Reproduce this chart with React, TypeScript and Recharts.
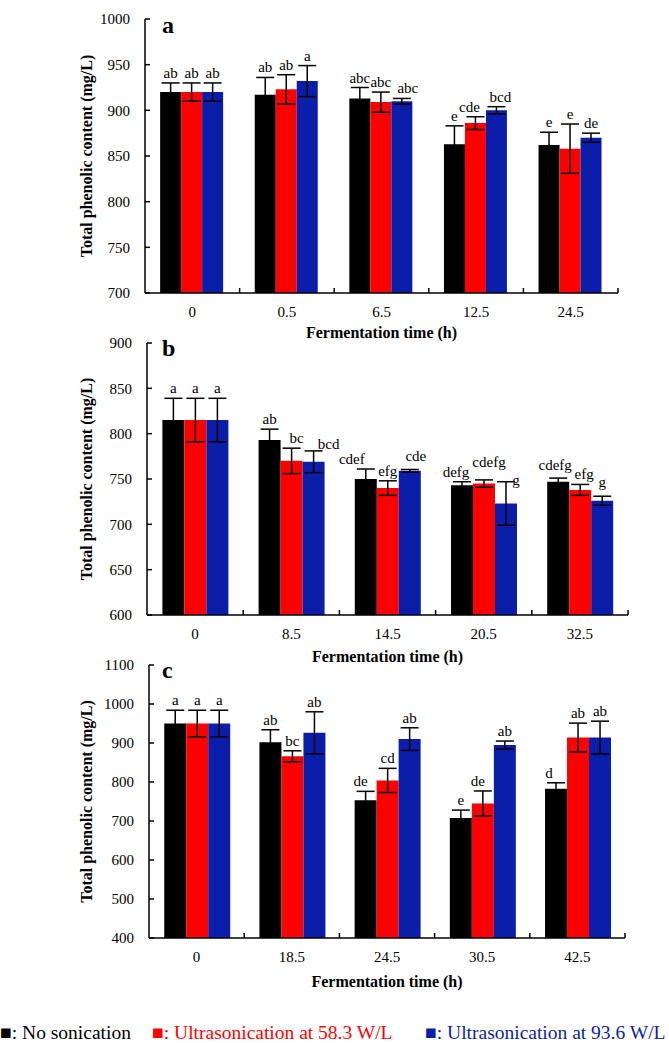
import React from 'react';
import { BarChart, Bar, XAxis, YAxis, ErrorBar, LabelList } from 'recharts';

const FONT = '"Liberation Serif", "Times New Roman", serif';
const BLACK = '#000000';
const RED = '#ff0000';
const BLUE = '#0a1eaa';

// panel a
const timesA = ['0', '0.5', '6.5', '12.5', '24.5'];
const noSonA = [920, 917, 913, 863, 862];
const noSonErrA = [10, 19, 12, 20, 14];
const u58A = [920, 923, 909, 886, 858];
const u58ErrA = [10, 16, 11, 7, 27];
const u93A = [920, 932, 910, 900, 870];
const u93ErrA = [10, 17, 3, 4, 5];
const noSonLetA = ['ab', 'ab', 'abc', 'e', 'e'];
const u58LetA = ['ab', 'ab', 'abc', 'cde', 'e'];
const u93LetA = ['ab', 'a', 'abc', 'bcd', 'de'];
const ticksA = [700, 750, 800, 850, 900, 950, 1000];

// panel b
const timesB = ['0', '8.5', '14.5', '20.5', '32.5'];
const noSonB = [815, 793, 750, 743, 747];
const noSonErrB = [24, 12, 11, 4, 4];
const u58B = [815, 770, 740, 745, 738];
const u58ErrB = [24, 14, 8, 4, 6];
const u93B = [815, 769, 759, 723, 726];
const u93ErrB = [24, 12, 1.5, 24, 5];
const noSonLetB = ['a', 'ab', 'cdef', 'defg', 'cdefg'];
const u58LetB = ['a', 'bc', 'efg', 'cdefg', 'efg'];
const u93LetB = ['a', 'bcd', 'cde', 'g', 'g'];
const ticksB = [600, 650, 700, 750, 800, 850, 900];

// panel c
const timesC = ['0', '18.5', '24.5', '30.5', '42.5'];
const noSonC = [950, 902, 753, 708, 783];
const noSonErrC = [34, 32, 23, 20, 15];
const u58C = [950, 866, 804, 745, 914];
const u58ErrC = [34, 14, 31, 32, 37];
const u93C = [950, 926, 910, 895, 914];
const u93ErrC = [34, 54, 29, 10, 42];
const noSonLetC = ['a', 'ab', 'de', 'e', 'd'];
const u58LetC = ['a', 'bc', 'cd', 'de', 'ab'];
const u93LetC = ['a', 'ab', 'ab', 'ab', 'ab'];
const ticksC = [400, 500, 600, 700, 800, 900, 1000, 1100];

const seriesColors = [BLACK, RED, BLUE];
const legendNames = ['No sonication', 'Ultrasonication at 58.3 W/L', 'Ultrasonication at 93.6 W/L'];
const xTitle = 'Fermentation time (h)';
const yTitle = 'Total phenolic content (mg/L)';

// hand placement of letters that would collide (panel-series-index: [dx, dy])
const labelNudge: Record<string, [number, number]> = {
  'a-1-3': [-6, 0],
  'a-2-3': [4, 0],
  'a-2-2': [6, 0],
  'b-0-2': [-14, 0],
  'b-2-2': [6, -3],
  'b-1-1': [5, 0],
  'b-2-1': [15, 3],
  'b-0-3': [-6, 0],
  'b-1-3': [5, -8],
  'b-2-3': [10, 8],
  'b-0-4': [-3, -3],
  'b-1-4': [4, 0],
  'b-2-4': [0, -4],
  'c-0-2': [-5, 0],
  'c-1-3': [-5, 0],
  'c-0-4': [-7, 0],
};

const panels = [
  {
    letter: 'a', times: timesA,
    vals: [noSonA, u58A, u93A], errs: [noSonErrA, u58ErrA, u93ErrA], lets: [noSonLetA, u58LetA, u93LetA],
    ticks: ticksA,
    top: 19, bottom: 293, left: 145, right: 618, titleY: 338, letterY: 33,
  },
  {
    letter: 'b', times: timesB,
    vals: [noSonB, u58B, u93B], errs: [noSonErrB, u58ErrB, u93ErrB], lets: [noSonLetB, u58LetB, u93LetB],
    ticks: ticksB,
    top: 343, bottom: 615, left: 147, right: 628, titleY: 662, letterY: 356,
  },
  {
    letter: 'c', times: timesC,
    vals: [noSonC, u58C, u93C], errs: [noSonErrC, u58ErrC, u93ErrC], lets: [noSonLetC, u58LetC, u93LetC],
    ticks: ticksC,
    top: 665, bottom: 938, left: 149, right: 625, titleY: 987, letterY: 678,
  },
];

type Panel = typeof panels[number];

function Chart({ p }: { p: Panel }) {
  const pad = 10;
  const xh = 34;
  const w = 669;
  const h = p.bottom - p.top + pad + xh;
  const band = (p.right - p.left) / p.times.length;
  const min = p.ticks[0];
  const max = p.ticks[p.ticks.length - 1];

  const rows = p.times.map((t, i) => ({
    time: t,
    s0: p.vals[0][i], e0: p.errs[0][i],
    s1: p.vals[1][i], e1: p.errs[1][i],
    s2: p.vals[2][i], e2: p.errs[2][i],
  }));

  const xTick = (props: any) => {
    const { x, y, payload } = props;
    return (
      <g>
        <line x1={x + band / 2} x2={x + band / 2} y1={y} y2={y - 5} stroke="#000" strokeWidth={1.5} />
        <text x={x} y={y + 24} textAnchor="middle" fontSize={15} fontFamily={FONT} fill="#000">
          {payload.value}
        </text>
      </g>
    );
  };

  const yTick = (props: any) => {
    const { x, y, payload } = props;
    return (
      <g>
        <line x1={x} x2={x + 5} y1={y} y2={y} stroke="#000" strokeWidth={1.5} />
        <text x={x - 15} y={y} dy="0.35em" textAnchor="end" fontSize={15} fontFamily={FONT} fill="#000">
          {payload.value}
        </text>
      </g>
    );
  };

  const letterLabel = (si: number) => (props: any) => {
    const { x, y, width, height, index } = props;
    const v = p.vals[si][index];
    const perUnit = height / (v - min);
    const errPx = p.errs[si][index] * perUnit;
    const [dx, dy] = labelNudge[`${p.letter}-${si}-${index}`] || [0, 0];
    return (
      <text
        x={x + width / 2 + dx}
        y={y - errPx - 5 + dy}
        textAnchor="middle"
        fontSize={15}
        fontFamily={FONT}
        fill="#000"
      >
        {p.lets[si][index]}
      </text>
    );
  };

  return (
    <div style={{ position: 'absolute', left: 0, top: p.top - pad }}>
      <BarChart
        width={w}
        height={h}
        data={rows}
        margin={{ top: pad, right: w - p.right, bottom: 0, left: 0 }}
        barCategoryGap="16%"
        barGap={0}
      >
        <XAxis
          dataKey="time"
          height={xh}
          interval={0}
          tickLine={false}
          tickSize={0}
          tickMargin={0}
          axisLine={{ stroke: '#000', strokeWidth: 1.5 }}
          tick={xTick}
        />
        <YAxis
          width={p.left}
          domain={[min, max]}
          ticks={p.ticks}
          allowDataOverflow
          tickLine={false}
          tickSize={0}
          tickMargin={0}
          axisLine={{ stroke: '#000', strokeWidth: 1.5 }}
          tick={yTick}
        />
        {[0, 1, 2].map((si) => (
          <Bar key={si} dataKey={`s${si}`} fill={seriesColors[si]} isAnimationActive={false}>
            <ErrorBar dataKey={`e${si}`} width={9} strokeWidth={1.5} stroke="#000" direction="y" />
            <LabelList dataKey={`s${si}`} content={letterLabel(si)} />
          </Bar>
        ))}
      </BarChart>
    </div>
  );
}

export default function App() {
  return (
    <div style={{ position: 'absolute', left: 0, top: 0, width: 669, height: 1043, background: '#fff' }}>
      {panels.map((p) => (
        <Chart key={p.letter} p={p} />
      ))}
      <svg
        width={669}
        height={1043}
        style={{ position: 'absolute', left: 0, top: 0, pointerEvents: 'none' }}
        fontFamily={FONT}
      >
        {panels.map((p) => (
          <g key={p.letter}>
            <text
              transform={`translate(86, ${(p.top + p.bottom) / 2}) rotate(-90)`}
              textAnchor="middle"
              dy="0.35em"
              fontSize={16}
              fontWeight="bold"
              fill="#000"
            >
              {yTitle}
            </text>
            <text
              x={(p.left + p.right) / 2}
              y={p.titleY}
              textAnchor="middle"
              fontSize={16}
              fontWeight="bold"
              fill="#000"
            >
              {xTitle}
            </text>
            <text x={162} y={p.letterY} fontSize={24} fontWeight="bold" fill="#000">
              {p.letter}
            </text>
          </g>
        ))}
        <text x={0} y={1039} fontSize={19.5} fill={BLACK}>
          {'■: ' + legendNames[0]}
        </text>
        <text x={152} y={1039} fontSize={19.5} fill={RED}>
          {'■: ' + legendNames[1]}
        </text>
        <text x={425} y={1039} fontSize={19.5} fill={BLUE}>
          {'■: ' + legendNames[2]}
        </text>
      </svg>
    </div>
  );
}
